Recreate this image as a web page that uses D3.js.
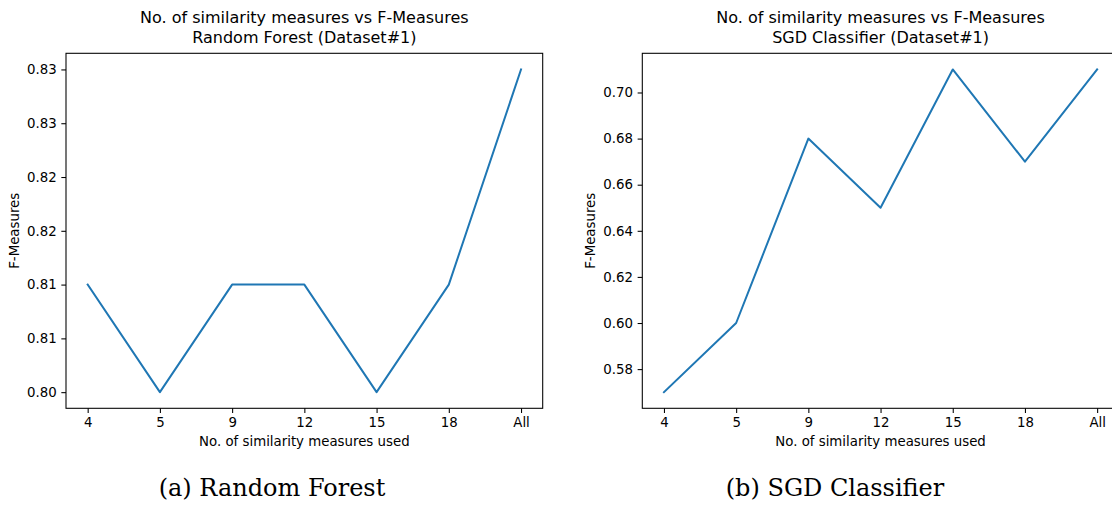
<!DOCTYPE html>
<html>
<head>
<meta charset="utf-8">
<script src="https://cdn.jsdelivr.net/npm/d3@7"></script>
<style>
body { margin: 0; background: #fff; }
svg { display: block; }
.tick text { font-family: "DejaVu Sans", sans-serif; font-size: 13.33px; fill: #000; }
.title, .axlabel { font-family: "DejaVu Sans", sans-serif; fill: #000; }
.caption { font-family: "DejaVu Serif", serif; fill: #000; }
</style>
</head>
<body>
<div id="chart"></div>
<script>
(function() {

const w = 1112;
const h = 506;

const categories = ["4", "5", "9", "12", "15", "18", "All"];

const rfValues = [0.81, 0.80, 0.81, 0.81, 0.80, 0.81, 0.83];
const sgdValues = [0.57, 0.60, 0.68, 0.65, 0.71, 0.67, 0.71];

const rfTicks = [0.800, 0.805, 0.810, 0.815, 0.820, 0.825, 0.830];
const rfTickLabels = ["0.80", "0.81", "0.81", "0.82", "0.82", "0.83", "0.83"];
const sgdTicks = [0.58, 0.60, 0.62, 0.64, 0.66, 0.68, 0.70];
const sgdTickLabels = ["0.58", "0.60", "0.62", "0.64", "0.66", "0.68", "0.70"];

const titleLine1 = "No. of similarity measures vs F-Measures";
const rfTitle = "Random Forest (Dataset#1)";
const sgdTitle = "SGD Classifier (Dataset#1)";
const xLabel = "No. of similarity measures used";
const yLabel = "F-Measures";
const rfCaption = "(a) Random Forest";
const sgdCaption = "(b) SGD Classifier";

const panels = [
    {values: rfValues, ticks: rfTicks, labels: rfTickLabels, title: rfTitle,
     caption: rfCaption, left: 66, right: 542.7, captionX: 272},
    {values: sgdValues, ticks: sgdTicks, labels: sgdTickLabels, title: sgdTitle,
     caption: sgdCaption, left: 642.3, right: 1118.8, captionX: 835},
];

const top = 53.3;
const bottom = 408.3;
const tickLen = 4.67;
const tickPad = 4.67;

const svg = d3.select("#chart")
    .append("svg")
    .attr("width", w)
    .attr("height", h);

panels.forEach(function(p) {
    const g = svg.append("g");

    const xScale = d3.scalePoint()
        .domain(categories)
        .range([p.left, p.right])
        .padding(0.3);

    // matplotlib style 5% margin on y
    const ext = d3.extent(p.values);
    const margin = (ext[1] - ext[0]) * 0.05;
    const yScale = d3.scaleLinear()
        .domain([ext[0] - margin, ext[1] + margin])
        .range([bottom, top]);

    const line = d3.line()
        .x(function(d, i) { return xScale(categories[i]); })
        .y(function(d) { return yScale(d); });

    g.append("path")
        .datum(p.values)
        .attr("d", line)
        .attr("fill", "none")
        .attr("stroke", "#1f77b4")
        .attr("stroke-width", 2)
        .attr("stroke-linejoin", "round")
        .attr("stroke-linecap", "square");

    // axes
    const xAxis = d3.axisBottom(xScale)
        .tickSize(tickLen)
        .tickSizeOuter(0)
        .tickPadding(tickPad);

    const yAxis = d3.axisLeft(yScale)
        .tickValues(p.ticks)
        .tickFormat(function(d, i) { return p.labels[i]; })
        .tickSize(tickLen)
        .tickSizeOuter(0)
        .tickPadding(tickPad);

    const gx = g.append("g")
        .attr("transform", `translate(0,${bottom})`)
        .call(xAxis);
    const gy = g.append("g")
        .attr("transform", `translate(${p.left},0)`)
        .call(yAxis);

    [gx, gy].forEach(function(a) {
        a.select(".domain").remove();
        a.selectAll(".tick line").attr("stroke", "#000").attr("stroke-width", 1.07);
    });

    // frame
    g.append("rect")
        .attr("x", p.left)
        .attr("y", top)
        .attr("width", p.right - p.left)
        .attr("height", bottom - top)
        .attr("fill", "none")
        .attr("stroke", "#000")
        .attr("stroke-width", 1.07);

    const cx = (p.left + p.right) / 2;

    // titles
    g.append("text")
        .attr("class", "title")
        .attr("x", cx)
        .attr("y", 23)
        .attr("text-anchor", "middle")
        .style("font-size", "16px")
        .text(titleLine1);

    g.append("text")
        .attr("class", "title")
        .attr("x", cx)
        .attr("y", 42.5)
        .attr("text-anchor", "middle")
        .style("font-size", "16px")
        .text(p.title);

    // axis labels
    g.append("text")
        .attr("class", "axlabel")
        .attr("x", cx)
        .attr("y", 446)
        .attr("text-anchor", "middle")
        .style("font-size", "13.33px")
        .text(xLabel);

    const tickTextLeft = p.left - tickLen - tickPad - 29.7;
    g.append("text")
        .attr("class", "axlabel")
        .attr("transform", `translate(${tickTextLeft - 8.4},${(top + bottom) / 2}) rotate(-90)`)
        .attr("text-anchor", "middle")
        .style("font-size", "13.33px")
        .text(yLabel);

    // caption
    g.append("text")
        .attr("class", "caption")
        .attr("x", p.captionX)
        .attr("y", 496)
        .attr("text-anchor", "middle")
        .style("font-size", "24px")
        .text(p.caption);
});

})();
</script>
</body>
</html>
